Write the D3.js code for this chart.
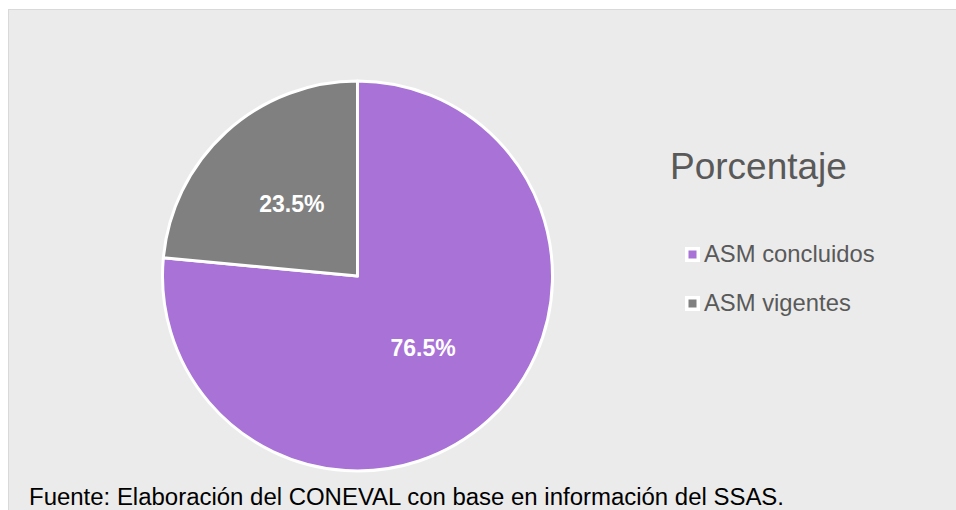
<!DOCTYPE html>
<html>
<head>
<meta charset="utf-8">
<script src="https://cdn.jsdelivr.net/npm/d3@7"></script>
<style>
  body { margin: 0; background: #fff; }
  svg { display: block; font-family: "Liberation Sans", Arial, sans-serif; }
</style>
</head>
<body>
<svg id="chart" width="956" height="510"></svg>
<script>
const categories = ['ASM concluidos', 'ASM vigentes'];
const values = [76.5, 23.5];
const colors = ['#a872d6', '#808080'];
const title = 'Porcentaje';
const source = 'Fuente: Elaboración del CONEVAL con base en información del SSAS.';

const data = categories.map((c, i) => ({ key: c, value: values[i], color: colors[i] }));

const svg = d3.select('#chart');

// chart area background + border (top/left visible only)
svg.append('rect')
  .attr('x', 8.5).attr('y', 9.5)
  .attr('width', 960).attr('height', 520)
  .attr('fill', '#ebebeb')
  .attr('stroke', '#d9d9d9')
  .attr('stroke-width', 1);

const cx = 357.5, cy = 276, r = 195;

const pie = d3.pie().sort(null).value(d => d.value);
const arc = d3.arc().innerRadius(0).outerRadius(r);
const labelArc = d3.arc().innerRadius(r * 0.5).outerRadius(r * 0.5);

const g = svg.append('g').attr('transform', `translate(${cx},${cy})`);

g.selectAll('path')
  .data(pie(data))
  .join('path')
    .attr('d', arc)
    .attr('fill', d => d.data.color)
    .attr('stroke', '#fff')
    .attr('stroke-width', 3)
    .attr('stroke-linejoin', 'round');

g.selectAll('.lbl')
  .data(pie(data))
  .join('text')
    .attr('class', 'lbl')
    .attr('transform', d => `translate(${labelArc.centroid(d)})`)
    .attr('text-anchor', 'middle')
    .attr('dy', '0.35em')
    .attr('fill', '#fff')
    .attr('font-weight', 'bold')
    .attr('font-size', 23)
    .text(d => d.data.value.toFixed(1) + '%');

// legend title
svg.append('text')
  .attr('x', 670).attr('y', 179)
  .attr('fill', '#595959')
  .attr('font-size', 37)
  .text(title);

const legend = svg.append('g').attr('transform', 'translate(685,262)');
const item = legend.selectAll('g')
  .data(data)
  .join('g')
    .attr('transform', (d, i) => `translate(0,${i * 49})`);

item.append('rect')
  .attr('x', 0).attr('y', -15)
  .attr('width', 15).attr('height', 15)
  .attr('fill', '#fff');
item.append('rect')
  .attr('x', 3.5).attr('y', -11.5)
  .attr('width', 8).attr('height', 8)
  .attr('fill', d => d.color);
item.append('text')
  .attr('x', 19).attr('y', 0)
  .attr('fill', '#595959')
  .attr('font-size', 23.8)
  .text(d => d.key);

// source note
svg.append('text')
  .attr('x', 29).attr('y', 505)
  .attr('fill', '#000')
  .attr('font-size', 23)
  .attr('textLength', 755)
  .attr('lengthAdjust', 'spacingAndGlyphs')
  .text(source);
</script>
</body>
</html>
